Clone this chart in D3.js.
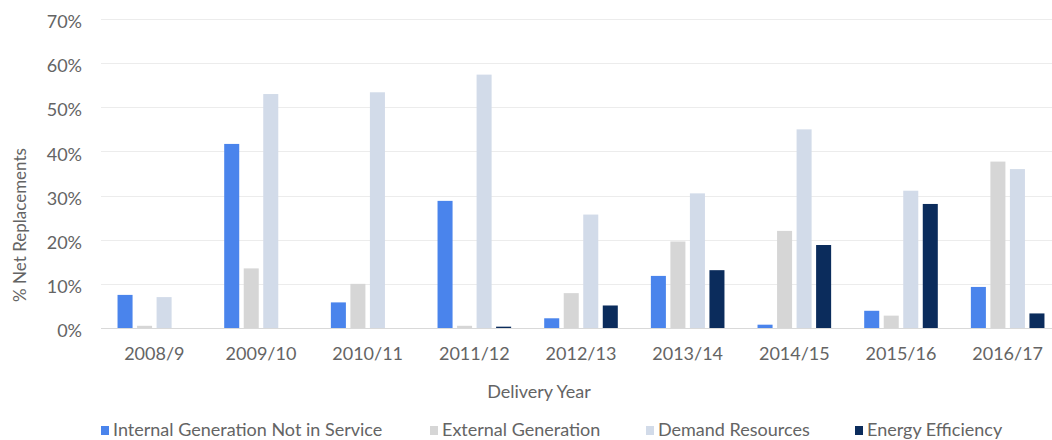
<!DOCTYPE html>
<html>
<head>
<meta charset="utf-8">
<script src="https://cdn.jsdelivr.net/npm/d3@7"></script>
<style>
  html, body { margin: 0; padding: 0; background: #fff; }
  svg { display: block; font-family: Lato, "Open Sans", sans-serif; }
</style>
</head>
<body>
<svg id="chart" width="1052" height="440"></svg>
<script>
// Delivery years on the x axis
const years = ["2008/9", "2009/10", "2010/11", "2011/12", "2012/13", "2013/14", "2014/15", "2015/16", "2016/17"];

// Series names (legend order)
const seriesNames = ["Internal Generation Not in Service", "External Generation", "Demand Resources", "Energy Efficiency"];

// Share of net replacements, in percent
const internalGen = [7.5, 41.7, 5.8, 28.8, 2.2, 11.8, 0.75, 3.9, 9.3];
const externalGen = [0.5, 13.5, 10.0, 0.5, 7.9, 19.6, 22.0, 2.8, 37.7];
const demandRes   = [7.0, 53.0, 53.4, 57.4, 25.7, 30.5, 45.0, 31.1, 36.0];
const energyEff   = [0, 0, 0, 0.3, 5.1, 13.1, 18.8, 28.1, 3.3];

// Y axis ticks
const yTicks = [0, 10, 20, 30, 40, 50, 60, 70];

const seriesValues = [internalGen, externalGen, demandRes, energyEff];
const colors = ["#4a84ec", "#d6d6d6", "#d2dbe9", "#0b2c5c"];

const svg = d3.select("#chart");
const W = 1052;
const plotLeft = 101, plotRight = 1061, plotTop = 19, plotBottom = 328;

const x0 = d3.scaleBand()
  .domain(years)
  .range([plotLeft, plotRight])
  .paddingInner(0.31)
  .paddingOuter(0.155);

const x1 = d3.scaleBand()
  .domain(seriesNames)
  .range([0, x0.bandwidth()])
  .paddingInner(0.23)
  .paddingOuter(0);

const y = d3.scaleLinear()
  .domain([0, 70])
  .range([plotBottom, plotTop]);

const textColor = "#646464";
const fontSize = "18px";

// Horizontal gridlines
svg.append("g")
  .selectAll("line")
  .data(yTicks)
  .join("line")
  .attr("x1", plotLeft)
  .attr("x2", W)
  .attr("y1", d => Math.round(y(d)) + 0.5)
  .attr("y2", d => Math.round(y(d)) + 0.5)
  .attr("stroke", d => d === 0 ? "#d9d9d9" : "#ececec")
  .attr("stroke-width", 1);

// Y axis labels
const yAxis = d3.axisLeft(y)
  .tickValues(yTicks)
  .tickFormat(d => d + "%")
  .tickSize(0)
  .tickPadding(19);

const gy = svg.append("g")
  .attr("transform", `translate(${plotLeft},0)`)
  .call(yAxis);
gy.select(".domain").remove();
gy.selectAll("text")
  .attr("fill", textColor)
  .attr("dy", "0.48em")
  .style("font-size", fontSize)
  .style("font-family", "Lato, sans-serif");

// X axis labels
const xAxis = d3.axisBottom(x0).tickSize(0).tickPadding(19);
const gx = svg.append("g")
  .attr("transform", `translate(0,${y(0)})`)
  .call(xAxis);
gx.select(".domain").remove();
gx.selectAll("text")
  .attr("fill", textColor)
  .style("font-size", fontSize)
  .style("font-family", "Lato, sans-serif");

// Bars
const groups = svg.append("g")
  .selectAll("g")
  .data(years)
  .join("g")
  .attr("transform", d => `translate(${x0(d)},0)`);

groups.selectAll("rect")
  .data((d, i) => seriesNames.map((s, k) => ({ series: s, k, value: seriesValues[k][i] })))
  .join("rect")
  .attr("x", d => x1(d.series))
  .attr("width", x1.bandwidth())
  .attr("y", d => y(d.value))
  .attr("height", d => y(0) - y(d.value))
  .attr("fill", d => colors[d.k]);

// Axis titles
svg.append("text")
  .attr("x", 539)
  .attr("y", 398)
  .attr("text-anchor", "middle")
  .attr("fill", textColor)
  .style("font-size", fontSize)
  .text("Delivery Year");

svg.append("text")
  .attr("transform", "translate(26,225) rotate(-90)")
  .attr("text-anchor", "middle")
  .attr("fill", textColor)
  .style("font-size", "17px")
  .text("% Net Replacements");

// Legend
const legendX = [101, 430, 646, 855];
const legend = svg.append("g")
  .selectAll("g")
  .data(seriesNames)
  .join("g")
  .attr("transform", (d, i) => `translate(${legendX[i]},430)`);

legend.append("rect")
  .attr("x", 0)
  .attr("y", -4)
  .attr("width", 8)
  .attr("height", 9)
  .attr("fill", (d, i) => colors[i]);

legend.append("text")
  .attr("x", 12)
  .attr("y", 0)
  .attr("dy", "0.35em")
  .attr("fill", textColor)
  .style("font-size", fontSize)
  .text(d => d);
</script>
</body>
</html>
